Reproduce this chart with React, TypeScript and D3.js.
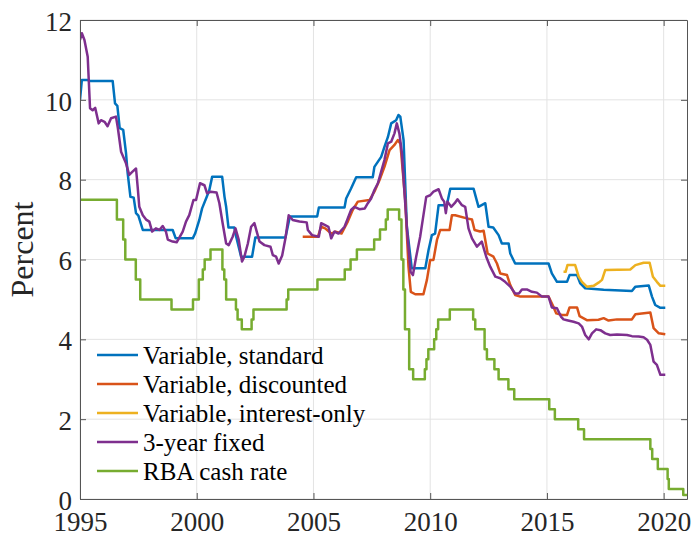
import React, { useEffect, useRef } from 'react';
import * as d3 from 'd3';

type Pt = [number, number];

// Series: [decimal year, percent]
const variableStandard: Pt[] = [
  [1995.0, 10.0], [1995.08, 10.5], [1995.3, 10.5], [1995.45, 10.47], [1996.4, 10.47],
  [1996.5, 9.91], [1996.6, 9.85], [1996.7, 9.29], [1996.85, 9.25], [1996.97, 8.67],
  [1997.04, 8.17], [1997.16, 7.57], [1997.3, 7.55], [1997.4, 7.16], [1997.5, 7.1],
  [1997.69, 6.74], [1998.97, 6.74], [1999.1, 6.53], [1999.83, 6.53], [1999.93, 6.65],
  [2000.11, 6.99], [2000.23, 7.28], [2000.43, 7.57], [2000.54, 7.74], [2000.66, 8.07],
  [2001.09, 8.07], [2001.19, 7.57], [2001.26, 7.32], [2001.36, 6.8], [2001.61, 6.8],
  [2001.69, 6.57], [2001.9, 6.07], [2002.37, 6.07], [2002.51, 6.55], [2003.8, 6.55],
  [2003.99, 7.08], [2005.16, 7.08], [2005.23, 7.3], [2006.33, 7.3], [2006.4, 7.53],
  [2006.61, 7.78], [2006.83, 8.06], [2007.54, 8.06], [2007.61, 8.32], [2007.9, 8.57],
  [2008.04, 8.82], [2008.19, 9.07], [2008.33, 9.41], [2008.54, 9.49], [2008.64, 9.62],
  [2008.72, 9.58], [2008.76, 9.41], [2008.86, 8.99], [2009.0, 6.82], [2009.21, 5.78],
  [2009.79, 5.78], [2009.93, 6.24], [2010.07, 6.61], [2010.21, 6.65], [2010.36, 7.36],
  [2010.71, 7.36], [2010.86, 7.77], [2011.86, 7.77], [2012.07, 7.32], [2012.36, 7.41],
  [2012.5, 6.82], [2012.7, 6.8], [2012.93, 6.61], [2013.07, 6.4], [2013.36, 6.4],
  [2013.43, 6.15], [2013.64, 5.9], [2015.07, 5.9], [2015.21, 5.65], [2015.43, 5.44],
  [2015.86, 5.44], [2015.97, 5.61], [2016.29, 5.61], [2016.43, 5.4], [2016.64, 5.28],
  [2017.43, 5.24], [2018.64, 5.21], [2018.79, 5.32], [2019.36, 5.35], [2019.5, 5.07],
  [2019.64, 4.86], [2019.86, 4.79], [2020.07, 4.79],
];

const variableDiscounted: Pt[] = [
  [2004.54, 6.57], [2005.19, 6.57], [2005.33, 6.82], [2005.5, 6.78], [2005.76, 6.65],
  [2005.95, 6.7], [2006.2, 6.65], [2006.47, 6.95], [2006.68, 7.24], [2006.9, 7.45],
  [2007.4, 7.49], [2007.61, 7.7], [2007.83, 7.99], [2008.04, 8.32], [2008.26, 8.74],
  [2008.47, 8.87], [2008.61, 8.99], [2008.72, 8.91], [2008.76, 8.66], [2008.93, 7.49],
  [2009.07, 5.82], [2009.17, 5.19], [2009.36, 5.13], [2009.71, 5.13], [2009.86, 5.49],
  [2010.0, 5.99], [2010.14, 5.99], [2010.29, 6.49], [2010.43, 6.74], [2010.83, 6.74],
  [2010.93, 7.11], [2011.07, 7.11], [2011.57, 7.03], [2011.79, 7.0], [2011.9, 6.74],
  [2012.14, 6.7], [2012.29, 6.72], [2012.46, 6.15], [2012.71, 6.07], [2012.86, 5.9],
  [2013.0, 5.65], [2013.29, 5.61], [2013.43, 5.36], [2013.64, 5.11], [2013.86, 5.07],
  [2015.07, 5.07], [2015.29, 4.8], [2015.4, 4.65], [2015.64, 4.61], [2015.86, 4.61],
  [2015.97, 4.8], [2016.29, 4.8], [2016.4, 4.58], [2016.71, 4.48], [2017.21, 4.49],
  [2017.43, 4.53], [2017.64, 4.47], [2018.0, 4.5], [2018.64, 4.5], [2018.79, 4.63],
  [2019.43, 4.67], [2019.57, 4.28], [2019.79, 4.15], [2020.07, 4.13],
];

const variableInterestOnly: Pt[] = [
  [2015.71, 5.69], [2015.8, 5.69], [2015.88, 5.86], [2016.21, 5.86], [2016.36, 5.57],
  [2016.5, 5.44], [2016.71, 5.32], [2017.0, 5.34], [2017.21, 5.42], [2017.36, 5.49],
  [2017.5, 5.74], [2018.57, 5.75], [2018.79, 5.86], [2019.14, 5.92], [2019.4, 5.92],
  [2019.54, 5.57], [2019.71, 5.44], [2019.86, 5.34], [2020.07, 5.34],
];

const fixed3yr: Pt[] = [
  [1995.0, 11.5], [1995.08, 11.67], [1995.19, 11.5], [1995.33, 11.08], [1995.43, 9.79],
  [1995.54, 9.74], [1995.65, 9.8], [1995.8, 9.41], [1995.9, 9.49], [1996.05, 9.45],
  [1996.18, 9.34], [1996.33, 9.54], [1996.54, 9.58], [1996.62, 9.3], [1996.76, 8.7],
  [1996.97, 8.41], [1997.11, 8.12], [1997.25, 8.2], [1997.4, 8.28], [1997.47, 7.82],
  [1997.54, 7.32], [1997.69, 7.11], [1997.83, 7.0], [1997.97, 6.95], [1998.09, 6.7],
  [1998.25, 6.78], [1998.4, 6.74], [1998.54, 6.84], [1998.68, 6.7], [1998.76, 6.5],
  [1998.97, 6.45], [1999.14, 6.43], [1999.4, 6.7], [1999.54, 6.95], [1999.68, 7.11],
  [1999.86, 7.49], [1999.97, 7.49], [2000.14, 7.91], [2000.33, 7.86], [2000.44, 7.66],
  [2000.6, 7.7], [2000.85, 7.68], [2000.97, 7.41], [2001.11, 6.91], [2001.26, 6.4],
  [2001.37, 6.36], [2001.54, 6.57], [2001.66, 6.78], [2001.8, 6.49], [2001.94, 5.95],
  [2002.04, 6.07], [2002.19, 6.4], [2002.33, 6.82], [2002.47, 6.91], [2002.57, 6.7],
  [2002.69, 6.45], [2002.9, 6.36], [2003.16, 6.32], [2003.26, 6.11], [2003.4, 6.07],
  [2003.51, 5.9], [2003.66, 6.1], [2003.8, 6.53], [2003.94, 7.11], [2004.11, 6.99],
  [2004.4, 6.95], [2004.71, 6.93], [2004.76, 6.74], [2004.94, 6.61], [2005.23, 6.57],
  [2005.33, 6.91], [2005.5, 6.86], [2005.64, 6.82], [2005.76, 6.53], [2005.9, 6.7],
  [2006.07, 6.65], [2006.33, 6.82], [2006.47, 7.03], [2006.61, 7.24], [2006.75, 7.32],
  [2006.97, 7.26], [2007.2, 7.28], [2007.33, 7.41], [2007.47, 7.53], [2007.61, 7.74],
  [2007.76, 7.91], [2007.9, 8.2], [2008.04, 8.49], [2008.19, 8.91], [2008.33, 8.95],
  [2008.47, 9.16], [2008.57, 9.41], [2008.68, 9.16], [2008.79, 8.66], [2008.9, 7.66],
  [2009.02, 6.65], [2009.16, 5.69], [2009.26, 5.61], [2009.4, 6.07], [2009.57, 6.57],
  [2009.69, 7.03], [2009.83, 7.57], [2010.0, 7.61], [2010.14, 7.7], [2010.36, 7.76],
  [2010.5, 7.53], [2010.6, 7.45], [2010.67, 7.16], [2010.74, 7.45], [2010.9, 7.32],
  [2011.05, 7.41], [2011.17, 7.51], [2011.36, 7.36], [2011.5, 7.32], [2011.64, 6.78],
  [2011.79, 6.53], [2012.0, 6.32], [2012.21, 6.45], [2012.4, 6.07], [2012.57, 5.82],
  [2012.79, 5.57], [2013.0, 5.53], [2013.21, 5.44], [2013.43, 5.32], [2013.64, 5.15],
  [2013.8, 5.15], [2013.93, 5.25], [2014.14, 5.25], [2014.36, 5.19], [2014.57, 5.17],
  [2014.79, 5.07], [2015.07, 5.07], [2015.21, 4.8], [2015.43, 4.78], [2015.6, 4.57],
  [2015.71, 4.5], [2015.86, 4.48], [2016.14, 4.44], [2016.36, 4.4], [2016.5, 4.32],
  [2016.64, 4.11], [2016.79, 4.0], [2016.93, 4.15], [2017.11, 4.25], [2017.29, 4.23],
  [2017.5, 4.15], [2017.71, 4.11], [2018.0, 4.12], [2018.43, 4.11], [2018.64, 4.08],
  [2018.93, 4.07], [2019.14, 4.05], [2019.29, 3.99], [2019.43, 3.86], [2019.57, 3.44],
  [2019.71, 3.36], [2019.86, 3.11], [2020.07, 3.11],
];

// cash rate: points where the target changes (drawn as steps)
const cashRate: Pt[] = [
  [1995.0, 7.5], [1996.58, 7.0], [1996.85, 6.5], [1996.94, 6.0], [1997.39, 5.5],
  [1997.58, 5.0], [1998.92, 4.75], [1999.84, 5.0], [2000.09, 5.5], [2000.26, 5.75],
  [2000.34, 6.0], [2000.59, 6.25], [2001.1, 5.75], [2001.18, 5.5], [2001.26, 5.0],
  [2001.68, 4.75], [2001.75, 4.5], [2001.93, 4.25], [2002.35, 4.5], [2002.43, 4.75],
  [2003.85, 5.0], [2003.92, 5.25], [2005.17, 5.5], [2006.34, 5.75], [2006.59, 6.0],
  [2006.86, 6.25], [2007.6, 6.5], [2007.85, 6.75], [2008.1, 7.0], [2008.18, 7.25],
  [2008.67, 7.0], [2008.77, 6.0], [2008.85, 5.25], [2008.92, 4.25], [2009.1, 3.25],
  [2009.27, 3.0], [2009.77, 3.25], [2009.84, 3.5], [2009.92, 3.75], [2010.17, 4.0],
  [2010.26, 4.25], [2010.34, 4.5], [2010.84, 4.75], [2011.84, 4.5], [2011.93, 4.25],
  [2012.33, 3.75], [2012.43, 3.5], [2012.75, 3.25], [2012.93, 3.0], [2013.35, 2.75],
  [2013.6, 2.5], [2015.1, 2.25], [2015.34, 2.0], [2016.34, 1.75], [2016.59, 1.5],
  [2019.43, 1.25], [2019.51, 1.0], [2019.75, 0.75], [2020.17, 0.5], [2020.22, 0.25],
  [2020.84, 0.1], [2021.0, 0.1],
];

const seriesNames = [
  'Variable, standard',
  'Variable, discounted',
  'Variable, interest-only',
  '3-year fixed',
  'RBA cash rate',
];
const seriesColors = ['#0072BD', '#D95319', '#EDB120', '#7E2F8E', '#77AC30'];
const xTicks = [1995, 2000, 2005, 2010, 2015, 2020];
const yTicks = [0, 2, 4, 6, 8, 10, 12];

const WIDTH = 692;
const HEIGHT = 536;
const FONT = '"Liberation Serif", "DejaVu Serif", "Times New Roman", serif';

const App: React.FC = () => {
  const svgRef = useRef<SVGSVGElement>(null);

  useEffect(() => {
    const svg = d3.select(svgRef.current);
    svg.selectAll('*').remove();

    const left = 80, right = 687, top = 20, bottom = 499;

    const x = d3.scaleLinear().domain([1995, 2021]).range([left, right]);
    const y = d3.scaleLinear().domain([0, 12]).range([bottom, top]);

    svg.append('rect').attr('width', WIDTH).attr('height', HEIGHT).attr('fill', '#fff');

    // grid
    const grid = svg.append('g').attr('stroke', '#e3e3e3').attr('stroke-width', 1);
    xTicks.forEach(t => {
      grid.append('line')
        .attr('x1', x(t)).attr('x2', x(t)).attr('y1', top).attr('y2', bottom);
    });
    yTicks.forEach(t => {
      grid.append('line')
        .attr('x1', left).attr('x2', right).attr('y1', y(t)).attr('y2', y(t));
    });

    svg.append('clipPath').attr('id', 'plot-clip')
      .append('rect')
      .attr('x', left).attr('y', top)
      .attr('width', right - left).attr('height', bottom - top);

    const line = d3.line<Pt>().x(d => x(d[0])).y(d => y(d[1]));
    const stepLine = d3.line<Pt>().x(d => x(d[0])).y(d => y(d[1])).curve(d3.curveStepAfter);

    const allSeries = [variableStandard, variableDiscounted, variableInterestOnly, fixed3yr, cashRate];
    const lines = svg.append('g').attr('clip-path', 'url(#plot-clip)');
    allSeries.forEach((s, i) => {
      lines.append('path')
        .datum(s)
        .attr('fill', 'none')
        .attr('stroke', seriesColors[i])
        .attr('stroke-width', 2.5)
        .attr('stroke-linejoin', 'round')
        .attr('d', i === 4 ? stepLine(s) : line(s));
    });

    // axes (MATLAB style: ticks inward, box on)
    const axisColor = '#555';
    const xAxis = svg.append('g')
      .attr('transform', `translate(0,${bottom})`)
      .call(d3.axisBottom(x).tickValues(xTicks).tickFormat(d3.format('d')).tickSizeInner(-6).tickSizeOuter(0));
    xAxis.select('.domain').attr('stroke', axisColor);
    xAxis.selectAll('.tick line').attr('stroke', axisColor);
    xAxis.selectAll('.tick text')
      .attr('y', 32).attr('dy', null)
      .attr('fill', '#262626')
      .style('font-family', FONT).style('font-size', '27px');

    const yAxis = svg.append('g')
      .attr('transform', `translate(${left},0)`)
      .call(d3.axisLeft(y).tickValues(yTicks).tickSizeInner(-6).tickSizeOuter(0).tickPadding(8));
    yAxis.select('.domain').attr('stroke', axisColor);
    yAxis.selectAll('.tick line').attr('stroke', axisColor);
    yAxis.selectAll('.tick text')
      .attr('dy', '0.38em')
      .attr('fill', '#262626')
      .style('font-family', FONT).style('font-size', '27px');

    const topAxis = svg.append('g')
      .attr('transform', `translate(0,${top})`)
      .call(d3.axisTop(x).tickValues(xTicks).tickFormat(() => '').tickSizeInner(-6).tickSizeOuter(0));
    topAxis.select('.domain').attr('stroke', axisColor);
    topAxis.selectAll('.tick line').attr('stroke', axisColor);

    const rightAxis = svg.append('g')
      .attr('transform', `translate(${right},0)`)
      .call(d3.axisRight(y).tickValues(yTicks).tickFormat(() => '').tickSizeInner(-6).tickSizeOuter(0));
    rightAxis.select('.domain').attr('stroke', axisColor);
    rightAxis.selectAll('.tick line').attr('stroke', axisColor);

    // y label
    svg.append('text')
      .attr('transform', `translate(33,${(top + bottom) / 2 - 10}) rotate(-90)`)
      .attr('text-anchor', 'middle')
      .style('font-family', FONT)
      .style('font-size', '32px')
      .attr('fill', '#262626')
      .text('Percent');

    // legend
    const legend = svg.append('g');
    seriesNames.forEach((name, i) => {
      const ly = 355 + i * 29;
      legend.append('line')
        .attr('x1', 97).attr('x2', 138).attr('y1', ly).attr('y2', ly)
        .attr('stroke', seriesColors[i]).attr('stroke-width', 2.5);
      legend.append('text')
        .attr('x', 143).attr('y', ly).attr('dy', '0.36em')
        .style('font-family', FONT).style('font-size', '25px')
        .attr('fill', '#000')
        .text(name);
    });
  }, []);

  return (
    <svg
      ref={svgRef}
      width={WIDTH}
      height={HEIGHT}
      style={{ position: 'absolute', left: 0, top: 0 }}
    />
  );
};

export default App;
